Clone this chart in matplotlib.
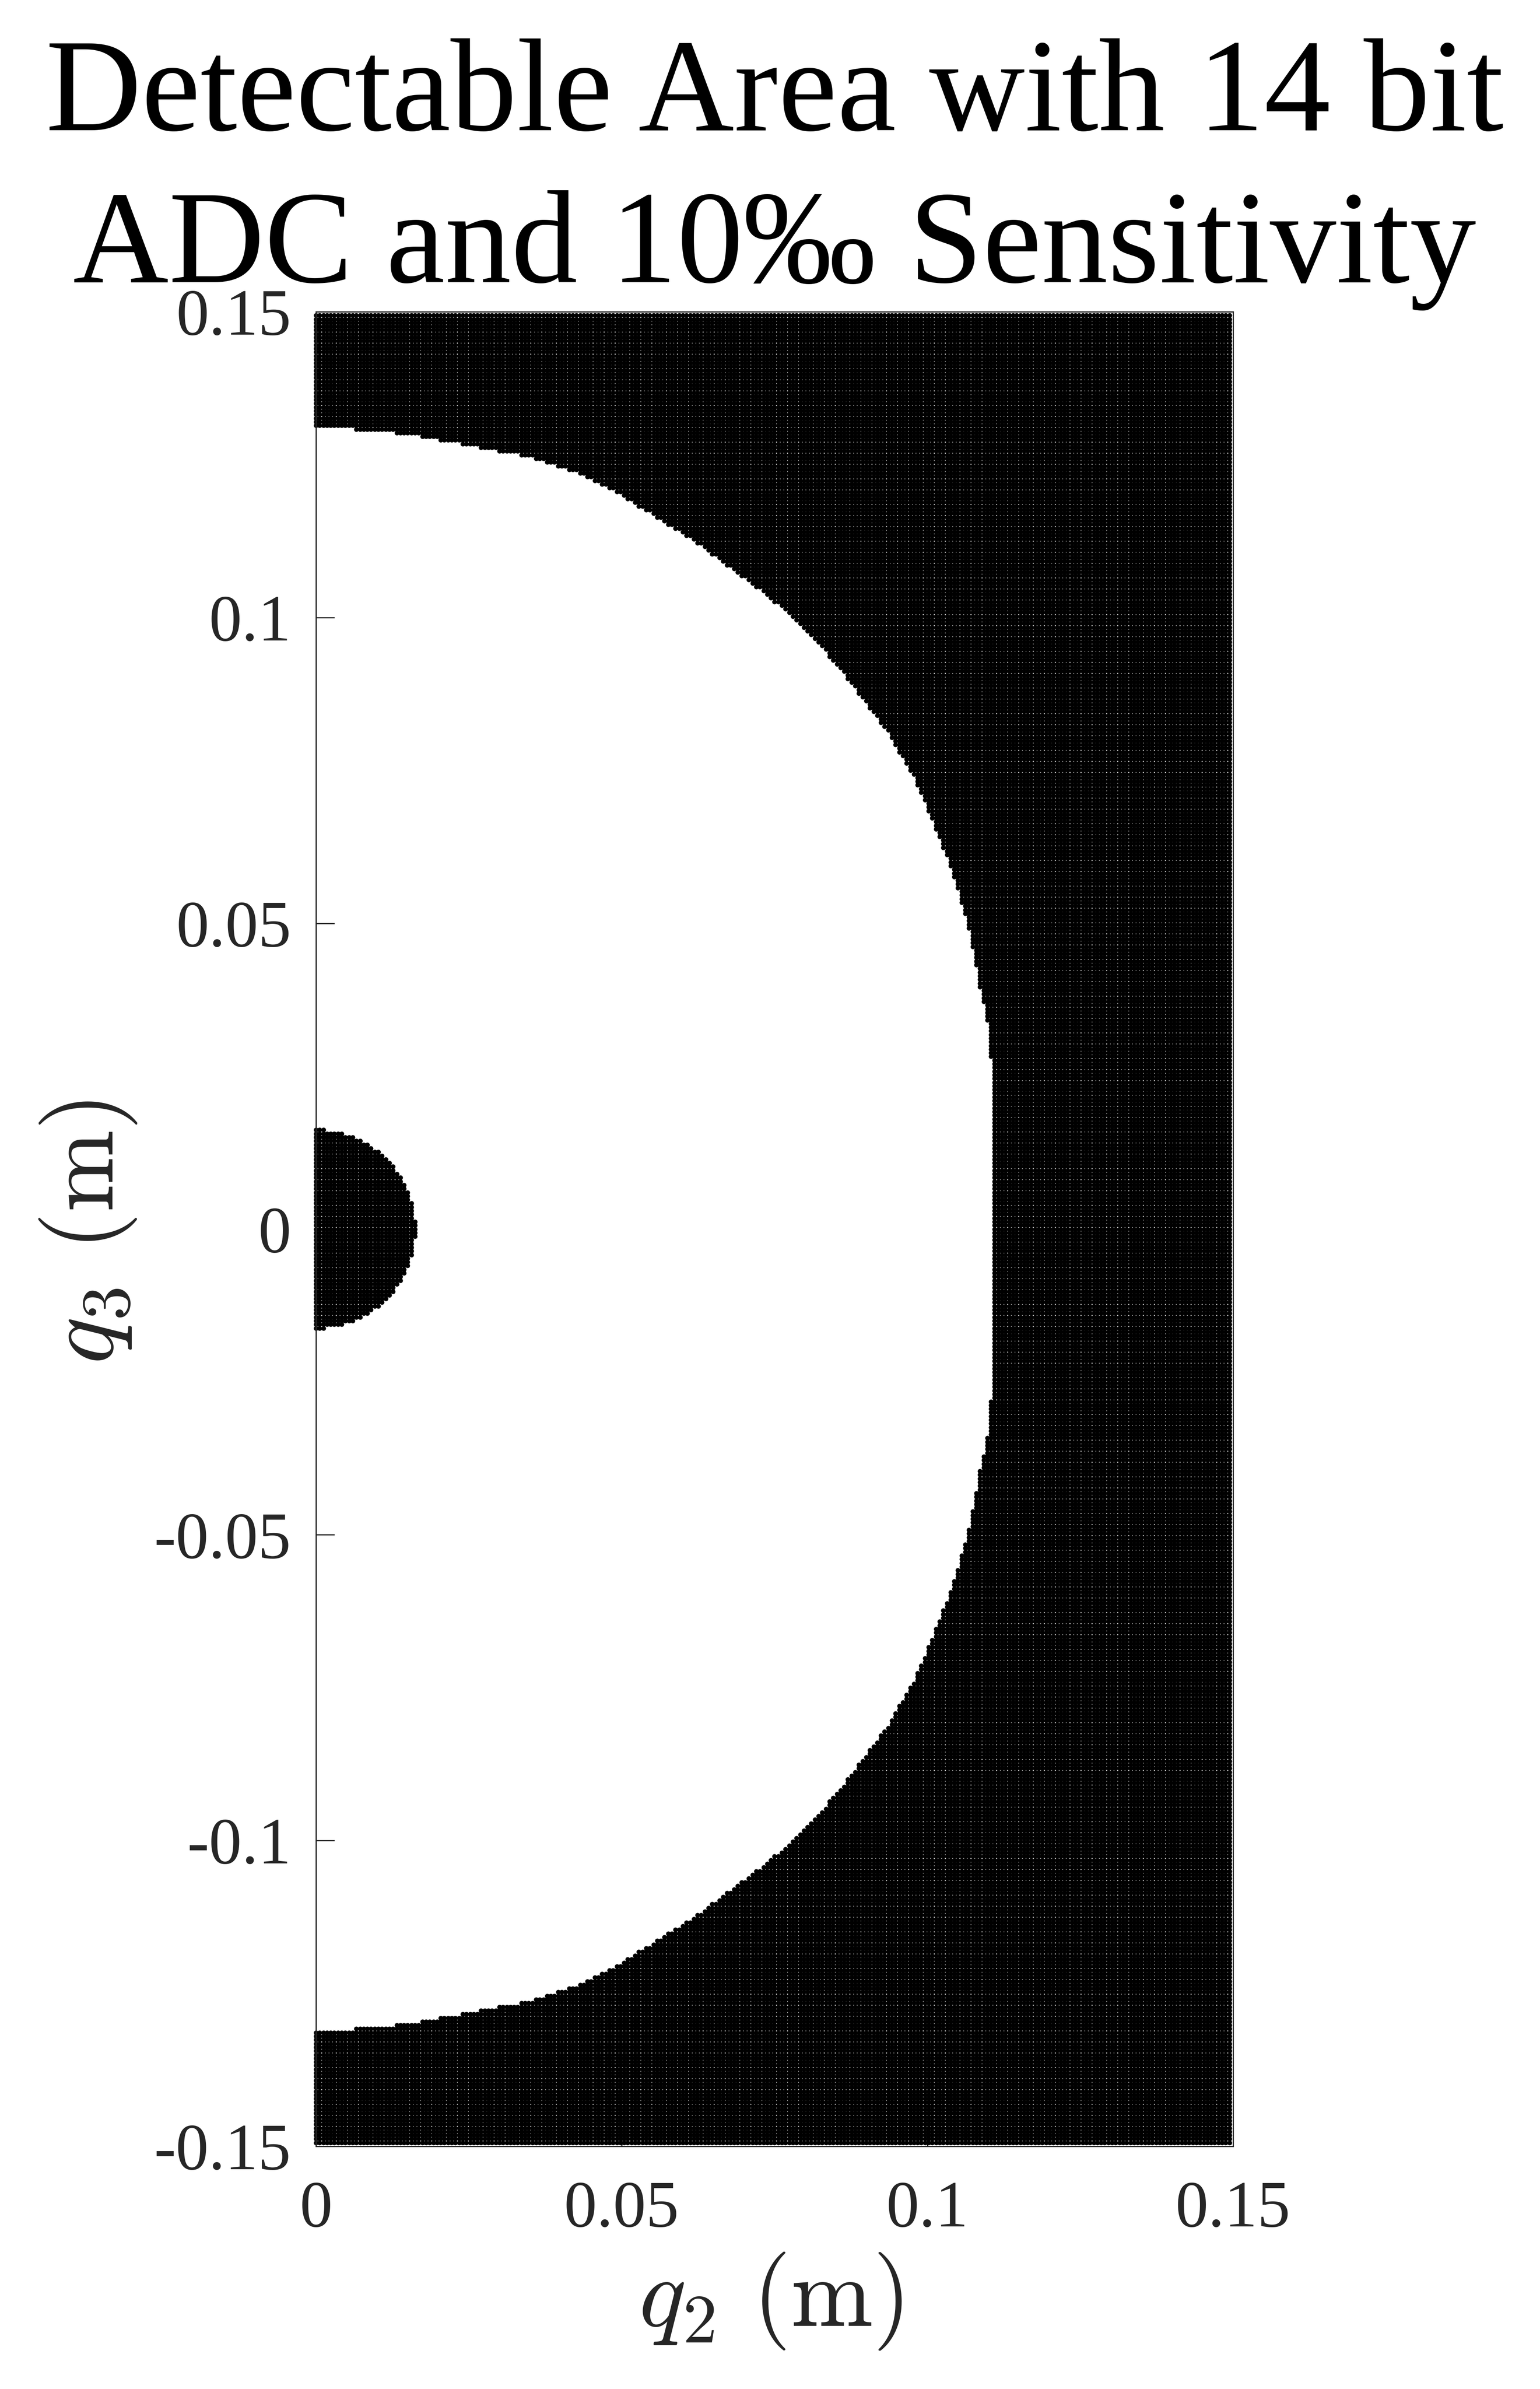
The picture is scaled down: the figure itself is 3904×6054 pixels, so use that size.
import numpy as np
import matplotlib
matplotlib.use("Agg")
import matplotlib.pyplot as plt

# ---------------- data ----------------
TITLE_LINES = ["Detectable Area with 14 bit", "ADC and 10\u2030 Sensitivity"]
X_LABEL = r"$q_2\ (\mathrm{m})$"
Y_LABEL = r"$q_3\ (\mathrm{m})$"

X_TICKS = [0.0, 0.05, 0.1, 0.15]
X_TICK_LABELS = ["0", "0.05", "0.1", "0.15"]
Y_TICKS = [-0.15, -0.1, -0.05, 0.0, 0.05, 0.1, 0.15]
Y_TICK_LABELS = ["-0.15", "-0.1", "-0.05", "0", "0.05", "0.1", "0.15"]

# sampling lattice of the scatter (m)
GRID_STEP = 0.0006
Q2_COUNT = 250
Q3_HALF_COUNT = 249

# outer boundary of the undetectable (black) region: |q3| -> q2 where black starts
OUTER_Q3 = [0.0, 0.0258, 0.0325, 0.0365, 0.0384, 0.0426, 0.0500, 0.0583, 0.0661,
            0.0739, 0.0817, 0.0880, 0.0942, 0.1000, 0.1036, 0.1083, 0.1130, 0.1161,
            0.1196, 0.1236, 0.1263, 0.1275, 0.1289, 0.1296, 0.1303, 0.1310, 0.1314]
OUTER_Q2 = [0.1106, 0.1106, 0.1100, 0.1094, 0.1088, 0.1081, 0.1065, 0.1042, 0.1011,
            0.0978, 0.0932, 0.0885, 0.0835, 0.0780, 0.0737, 0.0674, 0.0612, 0.0561,
            0.0506, 0.0428, 0.0346, 0.0284, 0.0207, 0.0170, 0.0123, 0.0040, 0.0]
# inner undetectable disc radius (m)
INNER_R = 0.01625

# ---------------- build mask ----------------
q2 = np.arange(Q2_COUNT) * GRID_STEP
q3 = np.arange(-Q3_HALF_COUNT, Q3_HALF_COUNT + 1) * GRID_STEP
Q2, Q3 = np.meshgrid(q2, q3)
edge = np.interp(np.abs(Q3), OUTER_Q3, OUTER_Q2)
black = (Q2 >= edge - 1e-9) | (Q2 ** 2 + Q3 ** 2 <= INNER_R ** 2)

# ---------------- figure ----------------
W, H, DPI = 3905, 6054, 100
plt.rcParams["mathtext.fontset"] = "cm"
plt.rcParams["font.family"] = ["Liberation Serif", "DejaVu Serif"]
fig = plt.figure(figsize=(W / DPI, H / DPI), dpi=DPI)
fig.patch.set_facecolor("white")

ax_l, ax_r, ax_t, ax_b = 801, 3126, 790, 5439
ax = fig.add_axes([ax_l / W, 1 - ax_b / H, (ax_r - ax_l) / W, (ax_b - ax_t) / H])
ax.set_axisbelow(True)

gray = "#262626"
marker_px = 12.0
s = (marker_px * 72 / DPI) ** 2
ax.scatter(Q2[black], Q3[black], s=s, c="black", marker="o", linewidths=0,
           clip_on=False, zorder=1)

ax.set_xlim(0, 0.15)
ax.set_ylim(-0.15, 0.15)
ax.set_xticks(X_TICKS)
ax.set_xticklabels(X_TICK_LABELS)
ax.set_yticks(Y_TICKS)
ax.set_yticklabels(Y_TICK_LABELS)

for sp in ax.spines.values():
    sp.set_color(gray)
    sp.set_linewidth(2.2)
    sp.set_zorder(2.5)

ax.tick_params(axis="both", direction="in", length=34, width=2.2, colors=gray,
               labelsize=120, labelcolor=gray)
ax.tick_params(axis="x", pad=62)
ax.tick_params(axis="y", pad=45)

ax.set_xlabel(X_LABEL, fontsize=180, color=gray)
ax.set_ylabel(Y_LABEL, fontsize=180, color=gray)
ax.xaxis.set_label_coords(0.5 - 10 / 2325, -(5704 - ax_b) / (ax_b - ax_t))
ax.yaxis.set_label_coords(-(ax_l - 351) / (ax_r - ax_l), 0.5 - 8 / 4649)

cx = ((ax_l + ax_r) / 2) / W
fig.text(cx, 1 - 330 / H, TITLE_LINES[0], ha="center", va="baseline",
         fontsize=242, color="black", family=["Liberation Serif", "DejaVu Serif"])
fig.text(cx, 1 - 715 / H, TITLE_LINES[1], ha="center", va="baseline",
         fontsize=242, color="black", family=["Liberation Serif", "DejaVu Serif"])

fig.savefig("out.png", dpi=DPI, facecolor="white")
